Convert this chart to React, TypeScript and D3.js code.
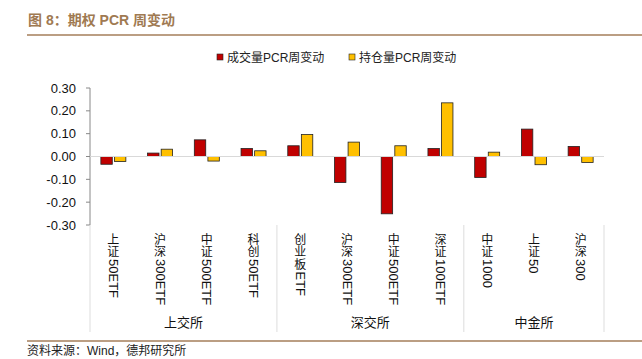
import { scaleBand, scaleLinear } from "d3";

const categories = [
  "上证50ETF", "沪深300ETF", "中证500ETF", "科创50ETF",
  "创业板ETF", "沪深300ETF", "中证500ETF", "深证100ETF",
  "中证1000", "上证50", "沪深300",
];
const volumePcr = [-0.034, 0.015, 0.073, 0.035, 0.047, -0.114, -0.251, 0.035, -0.092, 0.12, 0.044];
const oiPcr = [-0.022, 0.032, -0.02, 0.025, 0.096, 0.063, 0.047, 0.235, 0.019, -0.036, -0.026];
const groups = [
  { name: "上交所", count: 4 },
  { name: "深交所", count: 4 },
  { name: "中金所", count: 3 },
];
const yTicks = [0.3, 0.2, 0.1, 0, -0.1, -0.2, -0.3];
const seriesNames = ["成交量PCR周变动", "持仓量PCR周变动"];
const colors = ["#C00000", "#FFC000"];

const W = 642, H = 359;
const latin = "'Liberation Sans', Arial, sans-serif";
const cjk = "'Liberation Sans', 'Noto Sans CJK SC', sans-serif";

// split a label into its leading chinese characters and the latin tail
function splitLabel(s: string) {
  const m = s.match(/^([^\x00-\x7f]*)(.*)$/);
  return { han: Array.from(m ? m[1] : s), tail: m ? m[2] : "" };
}

export default function App() {
  const left = 90, right = 604;
  const top = 88, bottom = 225;

  const x = scaleBand<number>().domain(categories.map((_, i) => i)).range([left, right]);
  const step = x.step();
  const x1 = scaleBand<number>().domain([0, 1]).range([step / 2 - 12.5, step / 2 + 12.5]).paddingInner(0.16);
  const y = scaleLinear().domain([-0.3, 0.3]).range([bottom, top]);

  let acc = 0;
  const groupPos = groups.map((g) => {
    const start = left + acc * step;
    acc += g.count;
    return { ...g, start, end: left + acc * step };
  });

  const pitch = 12.5;

  return (
    <svg width={W} height={H} style={{ position: "absolute", left: 0, top: 0, background: "#fff" }}>
      {/* title */}
      <text x={28} y={25} fontFamily={cjk} fontSize={14} fontWeight="bold" fill="#A07A52">
        图 8：期权 PCR 周变动
      </text>
      <line x1={27} x2={642} y1={35} y2={35} stroke="#A57E5A" strokeWidth={1.5} />

      {/* legend */}
      {seriesNames.map((s, i) => (
        <g key={s} transform={`translate(${217 + i * 132},0)`}>
          <rect x={0} y={54} width={6} height={6} fill={colors[i]} stroke="#222" strokeWidth={0.6} />
          <text x={10} y={61.5} fontFamily={cjk} fontSize={12} fill="#222">{s}</text>
        </g>
      ))}

      {/* y axis */}
      <line x1={left} x2={left} y1={top} y2={bottom} stroke="#888" />
      {yTicks.map((t) => (
        <g key={t}>
          <line x1={left - 4} x2={left} y1={y(t)} y2={y(t)} stroke="#888" />
          <text x={76} y={y(t) + 4.5} textAnchor="end" fontFamily={latin} fontSize={13} fill="#111">
            {t.toFixed(2)}
          </text>
        </g>
      ))}

      {/* bars */}
      {categories.map((c, i) =>
        [volumePcr[i], oiPcr[i]].map((v, j) => (
          <rect
            key={`${i}-${j}`}
            x={(x(i) ?? 0) + (x1(j) ?? 0)}
            y={y(Math.max(0, v))}
            width={x1.bandwidth()}
            height={Math.abs(y(v) - y(0))}
            fill={colors[j]}
            stroke="#222"
            strokeWidth={0.8}
          />
        ))
      )}
      <line x1={left} x2={right} y1={y(0)} y2={y(0)} stroke="#d9d9d9" strokeWidth={1.2} />

      {/* group dividers */}
      <line x1={left} x2={left} y1={bottom} y2={332} stroke="#ddd" />
      {groupPos.map((g) => (
        <g key={g.name}>
          <line x1={g.end} x2={g.end} y1={bottom} y2={332} stroke="#ddd" />
          <text x={(g.start + g.end) / 2} y={327} textAnchor="middle" fontFamily={cjk} fontSize={13} fill="#111">
            {g.name}
          </text>
        </g>
      ))}

      {/* category labels: chinese upright, latin rotated */}
      {categories.map((c, i) => {
        const cx = (x(i) ?? 0) + step / 2;
        const { han, tail } = splitLabel(c);
        const y0 = 233;
        const tailY = y0 + han.length * pitch + 1;
        return (
          <g key={i}>
            {han.map((ch, k) => (
              <text key={k} x={cx} y={y0 + k * pitch + 10.5} textAnchor="middle" fontFamily={cjk} fontSize={12} fill="#111">
                {ch}
              </text>
            ))}
            <text
              transform={`translate(${cx},${tailY}) rotate(90)`}
              dominantBaseline="central"
              fontFamily={latin}
              fontSize={13}
              fill="#111"
            >
              {tail}
            </text>
          </g>
        );
      })}

      {/* footer */}
      <line x1={27} x2={642} y1={341} y2={341} stroke="#A57E5A" strokeWidth={1.5} />
      <text x={27} y={355} fontFamily={cjk} fontSize={12} fill="#222">资料来源：Wind，德邦研究所</text>
    </svg>
  );
}
